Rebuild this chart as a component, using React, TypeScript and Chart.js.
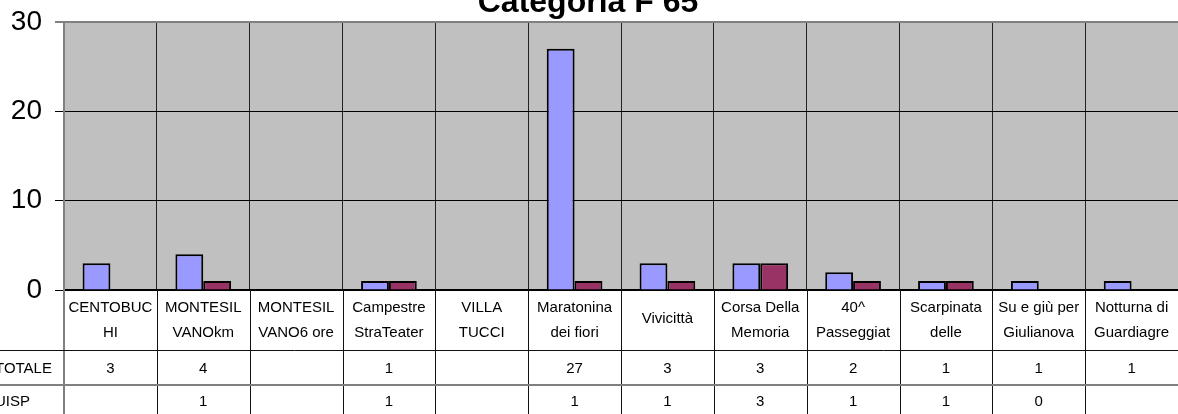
import React, { useEffect, useRef } from "react";
import { Chart, registerables } from "chart.js";

Chart.register(...registerables);

const TITLE = "Categoria F 65";
const categories: string[][] = [
  ["CENTOBUC", "HI"],
  ["MONTESIL", "VANOkm"],
  ["MONTESIL", "VANO6 ore"],
  ["Campestre", "StraTeater"],
  ["VILLA", "TUCCI"],
  ["Maratonina", "dei fiori"],
  ["Vivicittà"],
  ["Corsa Della", "Memoria"],
  ["40^", "Passeggiat"],
  ["Scarpinata", "delle"],
  ["Su e giù per", "Giulianova"],
  ["Notturna di", "Guardiagre"],
];
const seriesNames = ["TOTALE", "UISP"];
const totale: (number | null)[] = [3, 4, null, 1, null, 27, 3, 3, 2, 1, 1, 1];
const uisp: (number | null)[] = [null, 1, null, 1, null, 1, 1, 3, 1, 1, 0, null];
const yTicks = [0, 10, 20, 30];

const FONT = "'Liberation Sans', Arial, Helvetica, sans-serif";

const tablePlugin = {
  id: "excelDataTable",
  beforeDraw(chart: any) {
    const { ctx, chartArea: a } = chart;
    ctx.save();
    ctx.fillStyle = "#C0C0C0";
    ctx.fillRect(a.left, a.top, a.right - a.left, a.bottom - a.top);
    ctx.restore();
  },
  afterDraw(chart: any) {
    const { ctx, chartArea: a, scales } = chart;
    const xs = scales.x;
    const labels: string[][] = chart.data.labels;
    const n = labels.length;
    const H = chart.height;
    const W = chart.width;
    const catW = n > 1 ? xs.getPixelForValue(1) - xs.getPixelForValue(0) : a.right - a.left;
    const y0 = a.bottom;
    const headerBottom = y0 + 60;
    const row1Bottom = y0 + 95;

    ctx.save();
    // vertical boundaries through the table
    ctx.strokeStyle = "#111";
    ctx.lineWidth = 1;
    for (let i = 1; i < n; i++) {
      const bx = Math.round(xs.getPixelForValue(i) - catW / 2) + 0.5;
      ctx.beginPath();
      ctx.moveTo(bx, y0);
      ctx.lineTo(bx, H);
      ctx.stroke();
    }
    // left border of the table
    ctx.strokeStyle = "#808080";
    ctx.lineWidth = 2;
    ctx.beginPath();
    ctx.moveTo(a.left, y0);
    ctx.lineTo(a.left, H);
    ctx.stroke();

    // horizontal rows
    ctx.strokeStyle = "#111";
    ctx.lineWidth = 1;
    ctx.beginPath();
    ctx.moveTo(0, headerBottom + 0.5);
    ctx.lineTo(W, headerBottom + 0.5);
    ctx.stroke();
    ctx.strokeStyle = "#808080";
    ctx.lineWidth = 2;
    ctx.beginPath();
    ctx.moveTo(0, row1Bottom);
    ctx.lineTo(W, row1Bottom);
    ctx.stroke();

    // header labels
    ctx.fillStyle = "#000";
    ctx.textAlign = "center";
    ctx.textBaseline = "middle";
    ctx.font = `15px ${FONT}`;
    labels.forEach((lab, i) => {
      const cx = xs.getPixelForValue(i);
      if (lab.length === 1) {
        ctx.fillText(lab[0], cx, y0 + 29);
      } else {
        ctx.fillText(lab[0], cx, y0 + 18);
        ctx.fillText(lab[1], cx, y0 + 43);
      }
    });

    // values
    const rowY = [y0 + 79, y0 + 112];
    chart.data.datasets.forEach((ds: any, r: number) => {
      ds.data.forEach((v: number | null, i: number) => {
        if (v === null || v === undefined) return;
        ctx.fillText(String(v), xs.getPixelForValue(i), rowY[r]);
      });
      ctx.textAlign = "left";
      ctx.fillText(ds.label, -5, rowY[r]);
      ctx.textAlign = "center";
    });

    // title
    ctx.font = `bold 32px ${FONT}`;
    ctx.textAlign = "center";
    ctx.textBaseline = "alphabetic";
    ctx.fillText(TITLE, 588, 12);
    ctx.restore();
  },
};

export default function App() {
  const ref = useRef<HTMLCanvasElement>(null);

  useEffect(() => {
    if (!ref.current) return;
    const chart = new Chart(ref.current, {
      type: "bar",
      data: {
        labels: categories as any,
        datasets: [
          {
            label: seriesNames[0],
            data: totale,
            backgroundColor: "#9999FF",
            borderColor: "#000",
            borderWidth: 2,
            categoryPercentage: 0.6,
            barPercentage: 1,
          },
          {
            label: seriesNames[1],
            data: uisp,
            backgroundColor: "#993366",
            borderColor: "#000",
            borderWidth: 2,
            categoryPercentage: 0.6,
            barPercentage: 1,
          },
        ],
      },
      options: {
        animation: false,
        responsive: false,
        devicePixelRatio: 1,
        layout: { padding: { top: 22, left: 0, right: 0, bottom: 0 } },
        plugins: {
          legend: { display: false },
          title: { display: false },
          tooltip: { enabled: false },
        },
        scales: {
          x: {
            ticks: { display: false },
            grid: { display: true, offset: true, color: "#222", lineWidth: 1, drawTicks: false },
            border: { display: true, color: "#000", width: 2 },
            afterFit: (s: any) => {
              s.height = 124;
              s.paddingLeft = 0;
              s.paddingRight = 0;
            },
          },
          y: {
            min: 0,
            max: 30,
            afterBuildTicks: (s: any) => {
              s.ticks = yTicks.map((v) => ({ value: v }));
            },
            ticks: {
              font: { family: FONT, size: 28 },
              color: "#000",
              padding: 13,
            },
            grid: {
              color: (c: any) => (c.tick && c.tick.value === 30 ? "#808080" : "#000"),
              lineWidth: (c: any) => (c.tick && c.tick.value === 30 ? 2 : 1),
              tickLength: 9,
              drawTicks: true,
            },
            border: { color: "#808080", width: 2 },
            afterFit: (s: any) => {
              s.width = 64;
              s.paddingTop = 0;
              s.paddingBottom = 0;
            },
          },
        },
      },
      plugins: [tablePlugin],
    } as any);
    return () => chart.destroy();
  }, []);

  return (
    <div style={{ position: "absolute", left: 0, top: 0, width: 1178, height: 414, background: "#fff" }}>
      <canvas ref={ref} width={1178} height={414} style={{ display: "block", width: 1178, height: 414 }} />
    </div>
  );
}
